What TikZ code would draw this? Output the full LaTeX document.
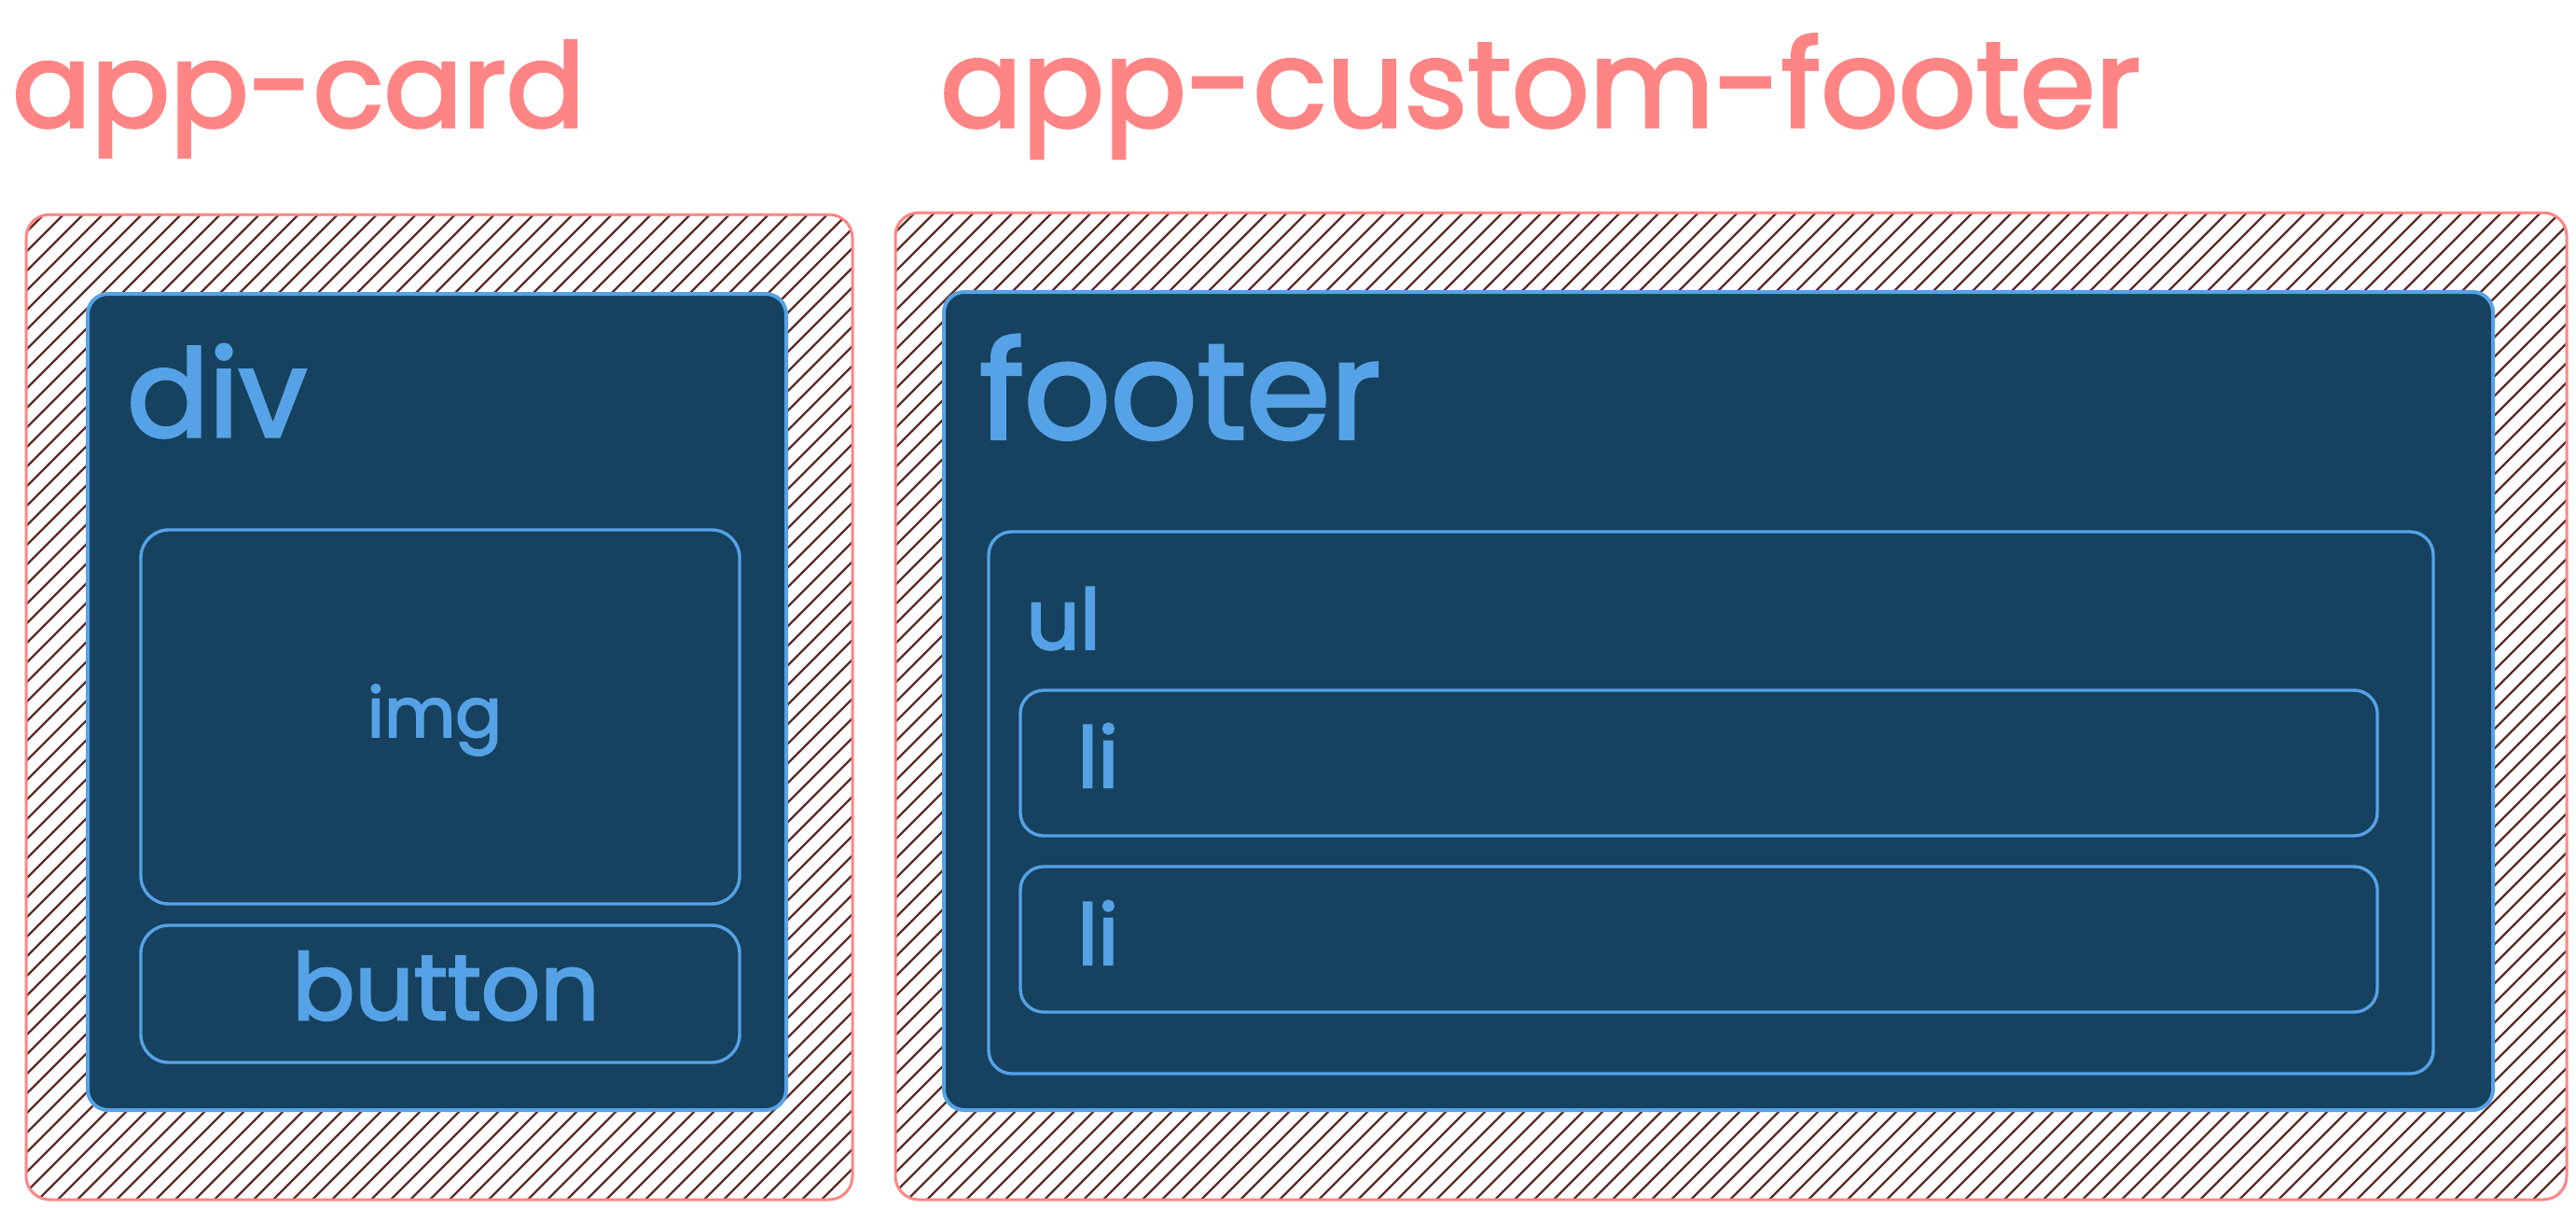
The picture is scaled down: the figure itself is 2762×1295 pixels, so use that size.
\documentclass[tikz,border=0pt]{standalone}
\usepackage{fontspec}
\newfontfamily\handfont{Poppins}[FakeBold=2.5]
\definecolor{salmon}{HTML}{FF8585}
\definecolor{boxfill}{HTML}{16425F}
\definecolor{boxline}{HTML}{56A2E6}
\definecolor{hatchcol}{HTML}{5C2B26}
\tikzset{
  hatchline/.style={draw=hatchcol, line width=2.4pt},
  hostbox/.style={draw=salmon, line width=3pt, rounded corners=25pt,
    inner sep=0pt, outer sep=0pt, anchor=north west,
    path picture={
      \foreach \k in {-1100,-1079,...,1800}
        \draw[hatchline] ([xshift=\k pt]path picture bounding box.south west) -- ++(1100pt,1100pt);
    }},
  elembox/.style={draw=boxline, fill=boxfill, line width=4pt, rounded corners=22pt,
    inner sep=0pt, outer sep=0pt, anchor=north west},
  childbox/.style={draw=boxline, line width=3.4pt, rounded corners=#1,
    inner sep=0pt, outer sep=0pt, anchor=north west},
  childbox/.default=28pt,
  title/.style={text=salmon, inner sep=0pt, anchor=base west,
    font=\handfont\fontsize{#1}{#1}\selectfont},
  tag/.style={text=boxline, inner sep=0pt, anchor=base west,
    font=\handfont\fontsize{#1}{#1}\selectfont},
}
\begin{document}
\begin{tikzpicture}[x=1pt,y=-1pt]
  \useasboundingbox (0,0) rectangle (2762,1295);
  \fill[white] (0,0) rectangle (2762,1295);

  % component hosts with hatched background
  \node[hostbox, minimum width=886pt, minimum height=1056pt] (card) at (28,230) {};
  \node[hostbox, minimum width=1792pt, minimum height=1058pt] (cfooter) at (960,228) {};

  % app-card content
  \node[elembox, minimum width=749pt, minimum height=875pt] (div) at (94,315) {};
  \node[childbox=30pt, minimum width=642pt, minimum height=401pt] (img) at (151,568) {};
  \node[childbox=30pt, minimum width=642pt, minimum height=147pt] (button) at (151,992) {};

  % app-custom-footer content
  \node[elembox, minimum width=1661pt, minimum height=877pt] (footer) at (1012,313) {};
  \node[childbox=25pt, minimum width=1549pt, minimum height=581pt] (ul) at (1060,570) {};
  \node[childbox=25pt, minimum width=1455pt, minimum height=156pt] (li1) at (1094,740) {};
  \node[childbox=25pt, minimum width=1455pt, minimum height=156pt] (li2) at (1094,929) {};

  % labels
  \node[title=125] (cardname) at (13,136) {app-card};
  \node[title=130] (footername) at (1008,136) {app-custom-footer};
  \node[tag=130] (divname) at (136,468) {div};
  \node[tag=145] (footertag) at (1050,470) {footer};
  \node[tag=74, anchor=base] (imgname) at (466,790) {img};
  \node[tag=99, anchor=base] (buttonname) at (478,1093) {button};
  \node[tag=90] (ulname) at (1100,696) {ul};
  \node[tag=90] (li1name) at (1155,844) {li};
  \node[tag=90] (li2name) at (1155,1034) {li};
\end{tikzpicture}
\end{document}
